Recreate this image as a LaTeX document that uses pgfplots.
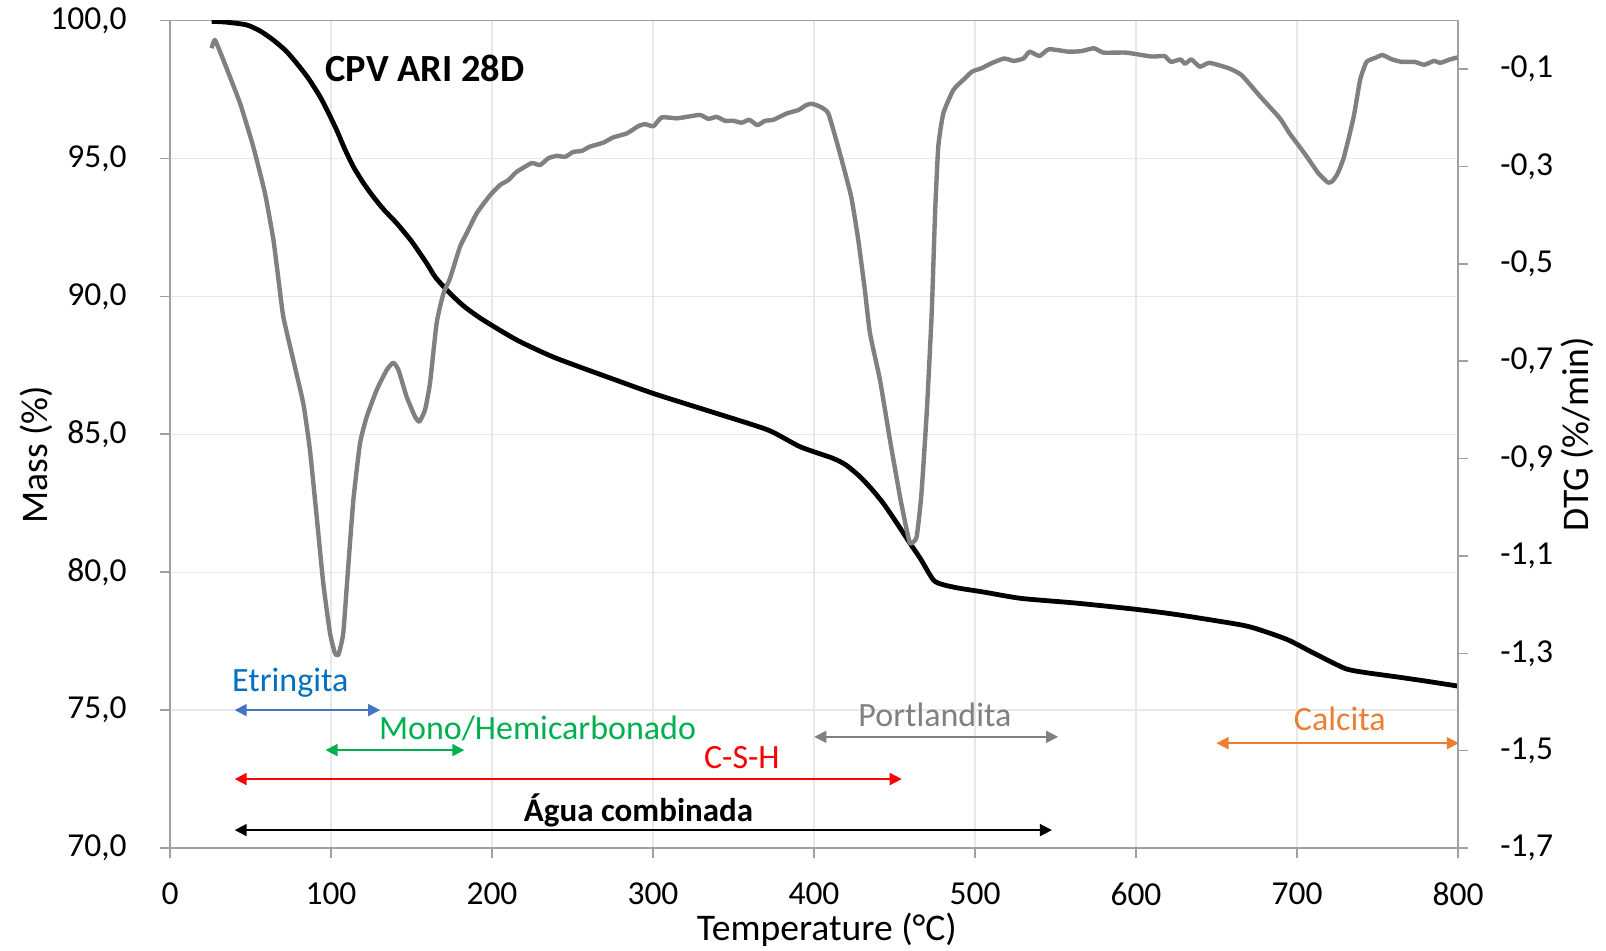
\documentclass[border=0pt]{standalone}
\usepackage{fontspec}
\setmainfont{Carlito}
\usepackage{pgfplots}
\pgfplotsset{compat=1.18}
\usetikzlibrary{arrows.meta}

\definecolor{gridgray}{HTML}{E8E8E8}
\definecolor{axisgray}{HTML}{A0A0A0}
\definecolor{dtggray}{HTML}{808080}
\definecolor{etrtext}{HTML}{0070C0}
\definecolor{etrarrow}{HTML}{4472C4}
\definecolor{monogreen}{HTML}{00B050}
\definecolor{cshred}{HTML}{FF0000}
\definecolor{calorange}{HTML}{ED7D31}

% mass loss (TG) curve
\pgfplotstableread{
T m
25.9 99.97
35.0 99.94
47.6 99.84
56.0 99.62
64.2 99.29
72.0 98.90
78.7 98.45
86.0 97.90
93.2 97.24
98.0 96.70
103.5 96.03
108.5 95.35
113.9 94.70
120.0 94.12
126.3 93.61
133.0 93.13
140.8 92.65
150.0 92.00
159.4 91.20
165.0 90.68
173.9 90.11
183.0 89.62
194.6 89.14
215.3 88.42
236.0 87.85
250.7 87.52
276.2 86.98
301.7 86.45
339.8 85.75
371.6 85.15
391.3 84.55
411.7 84.13
420.0 83.88
428.6 83.46
436.0 83.00
443.0 82.50
451.0 81.82
459.6 81.05
466.0 80.50
474.1 79.72
480.0 79.55
490.0 79.42
505.3 79.28
528.6 79.05
562.6 78.88
598.9 78.66
625.6 78.46
666.0 78.08
680.0 77.85
694.6 77.54
710.6 77.06
729.8 76.51
742.6 76.36
760.0 76.22
779.0 76.06
800.0 75.87
}\tgdata

% derivative (DTG) curve
\pgfplotstableread{
T d
25.9 -0.057
27.9 -0.040
33.1 -0.081
43.5 -0.170
51.7 -0.259
59.0 -0.355
64.2 -0.450
67.3 -0.530
70.4 -0.609
76.6 -0.698
82.8 -0.787
86.9 -0.882
91.1 -1.019
95.2 -1.156
99.4 -1.259
102.5 -1.300
104.6 -1.303
107.6 -1.259
110.7 -1.122
113.9 -0.985
118.0 -0.869
122.2 -0.814
128.4 -0.759
134.6 -0.718
138.7 -0.703
141.9 -0.718
147.0 -0.773
152.2 -0.814
154.9 -0.824
158.4 -0.800
161.5 -0.745
165.6 -0.622
169.8 -0.561
173.9 -0.530
180.1 -0.465
184.3 -0.437
190.5 -0.396
198.8 -0.359
205.0 -0.338
210.1 -0.328
215.3 -0.311
224.6 -0.293
229.8 -0.297
235.0 -0.283
240.2 -0.278
245.4 -0.280
250.5 -0.270
255.7 -0.268
260.9 -0.259
269.1 -0.251
275.4 -0.240
283.7 -0.232
290.9 -0.217
295.1 -0.213
300.3 -0.217
305.4 -0.199
314.7 -0.201
320.9 -0.198
329.2 -0.194
334.4 -0.202
339.6 -0.198
344.7 -0.206
349.9 -0.206
355.1 -0.210
359.8 -0.204
364.8 -0.215
369.6 -0.206
374.7 -0.204
383.0 -0.191
390.3 -0.184
395.0 -0.174
398.6 -0.171
403.7 -0.177
408.9 -0.191
416.1 -0.273
423.1 -0.362
427.5 -0.451
431.6 -0.554
434.8 -0.643
441.0 -0.739
447.2 -0.862
453.4 -0.978
457.6 -1.047
459.6 -1.074
461.5 -1.072
463.8 -1.060
466.6 -0.978
470.0 -0.807
473.1 -0.602
475.2 -0.396
477.2 -0.259
480.3 -0.191
486.5 -0.143
492.7 -0.122
498.2 -0.105
504.1 -0.098
510.1 -0.088
518.1 -0.078
524.1 -0.083
530.1 -0.078
534.0 -0.064
540.0 -0.073
546.0 -0.059
557.9 -0.064
565.9 -0.063
573.9 -0.057
579.8 -0.066
593.8 -0.066
609.7 -0.074
617.7 -0.073
621.7 -0.085
627.7 -0.080
630.4 -0.089
634.4 -0.080
639.6 -0.095
645.6 -0.087
657.5 -0.098
665.5 -0.112
677.4 -0.157
689.4 -0.201
695.4 -0.232
705.3 -0.276
713.3 -0.314
719.3 -0.333
722.0 -0.330
725.3 -0.314
729.2 -0.280
735.2 -0.198
739.2 -0.122
743.2 -0.085
749.2 -0.076
753.1 -0.071
759.1 -0.080
765.1 -0.085
773.1 -0.085
779.0 -0.091
785.0 -0.083
789.0 -0.087
795.0 -0.080
799.7 -0.076
}\dtgdata

\pgfplotsset{
  tgaxis/.style={
    width=644pt, height=413.75pt, scale only axis,
    at={(0,0)}, anchor=south west,
    xmin=0, xmax=800,
    tick align=outside, major tick length=5pt,
    tick style={axisgray, line width=0.8pt},
    axis line style={axisgray, line width=0.8pt},
    tick label style={font=\fontsize{16.75}{20}\selectfont, black},
    label style={font=\fontsize{18.8}{22}\selectfont, black},
    /pgf/number format/assume math mode=true,
  },
}

\begin{document}
\begin{tikzpicture}
\path[use as bounding box] (-85pt,-51pt) rectangle (718pt,424pt);

\begin{axis}[
  tgaxis,
  ymin=70, ymax=100,
  xtick={0,100,...,800},
  ytick={70,75,...,100},
  xtick pos=bottom, ytick pos=left,
  grid=major,
  major grid style={gridgray, line width=0.6pt},
  xticklabel style={anchor=center, yshift=-18pt},
  yticklabel style={anchor=east, inner sep=0pt, xshift=-16.5pt,
    /pgf/number format/.cd, fixed, fixed zerofill, precision=1, use comma},
  xlabel={Temperature (°C)},
  ylabel={Mass (\%)},
  xlabel style={at={(axis description cs:0.51,-0.099)}, anchor=center},
  ylabel style={at={(axis description cs:-0.104,0.475)}, anchor=center},
]
\addplot[black, line width=2.4pt, smooth, tension=0.4, line join=round] table[x=T, y=m] {\tgdata};

\node[font=\fontsize{19.2}{22}\selectfont\bfseries, anchor=base] at (axis cs:158.4,97.80) {CPV ARI 28D};

% decomposition ranges
\draw[etrarrow, line width=0.9pt, {Triangle[length=6pt,width=6pt]}-{Triangle[length=6pt,width=6pt]}]
  (axis cs:40.2,75.0) -- (axis cs:130.5,75.0);
\node[etrtext, font=\fontsize{17}{20}\selectfont, anchor=base] at (axis cs:74.7,75.68) {Etringita};

\draw[monogreen, line width=0.9pt, {Triangle[length=6pt,width=6pt]}-{Triangle[length=6pt,width=6pt]}]
  (axis cs:96.6,73.55) -- (axis cs:182.8,73.55);
\node[monogreen, font=\fontsize{17}{20}\selectfont, anchor=base] at (axis cs:228.3,73.93) {Mono/Hemicarbonado};

\draw[cshred, line width=0.9pt, {Triangle[length=6pt,width=6pt]}-{Triangle[length=6pt,width=6pt]}]
  (axis cs:40.2,72.50) -- (axis cs:454.5,72.50);
\node[cshred, font=\fontsize{17}{20}\selectfont, anchor=base] at (axis cs:355.2,72.90) {C-S-H};

\draw[black, line width=0.9pt, {Triangle[length=6pt,width=6pt]}-{Triangle[length=6pt,width=6pt]}]
  (axis cs:40.2,70.65) -- (axis cs:547.8,70.65);
\node[black, font=\fontsize{16.5}{20}\selectfont\bfseries, anchor=base] at (axis cs:291.0,70.96) {Água combinada};

\draw[dtggray, line width=0.9pt, {Triangle[length=6pt,width=6pt]}-{Triangle[length=6pt,width=6pt]}]
  (axis cs:400.2,74.03) -- (axis cs:551.6,74.03);
\node[dtggray, font=\fontsize{17}{20}\selectfont, anchor=base] at (axis cs:475.1,74.41) {Portlandita};

\draw[calorange, line width=0.9pt, {Triangle[length=6pt,width=6pt]}-{Triangle[length=6pt,width=6pt]}]
  (axis cs:650.0,73.80) -- (axis cs:800.5,73.80);
\node[calorange, font=\fontsize{17}{20}\selectfont, anchor=base] at (axis cs:726.6,74.25) {Calcita};
\end{axis}

\begin{axis}[
  tgaxis,
  ymin=-1.7, ymax=0,
  axis x line=none,
  axis y line*=right,
  ytick={-1.7,-1.5,-1.3,-1.1,-0.9,-0.7,-0.5,-0.3,-0.1},
  ytick pos=right,
  yticklabel style={anchor=west, inner sep=0pt, xshift=16pt,
    /pgf/number format/.cd, fixed, fixed zerofill, precision=1, use comma},
  ylabel={DTG (\%/min)},
  ylabel style={at={(axis description cs:1.0924,0.5)}, anchor=center, rotate=0},
]
\addplot[dtggray, line width=2.2pt, smooth, tension=0.3, line join=round] table[x=T, y=d] {\dtgdata};
\end{axis}
\end{tikzpicture}
\end{document}
